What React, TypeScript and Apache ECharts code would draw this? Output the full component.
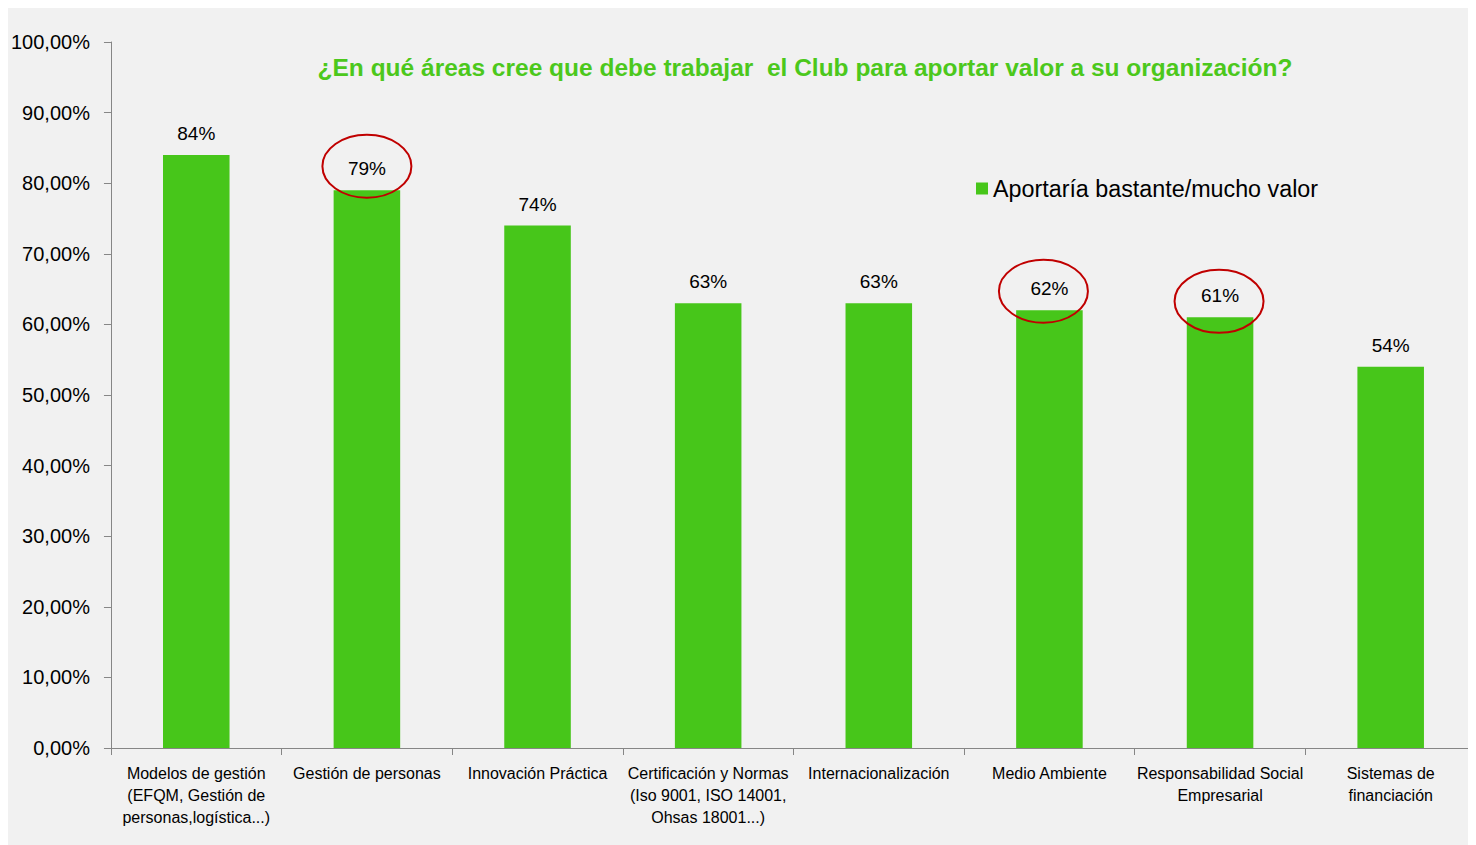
import React, { useEffect, useRef } from "react";
import * as echarts from "echarts";

const titleText = "¿En qué áreas cree que debe trabajar  el Club para aportar valor a su organización?";
const seriesName = "Aportaría bastante/mucho valor";
const categories = [
  "Modelos de gestión\n(EFQM, Gestión de\npersonas,logística...)",
  "Gestión de personas",
  "Innovación Práctica",
  "Certificación y Normas\n(Iso 9001, ISO 14001,\nOhsas 18001...)",
  "Internacionalización",
  "Medio Ambiente",
  "Responsabilidad Social\nEmpresarial",
  "Sistemas de\nfinanciación",
];
const values = [84, 79, 74, 63, 63, 62, 61, 54];
const yTicks = { min: 0, max: 100, interval: 10 };
// highlighted categories (index) with ellipse offsets relative to bar top
const highlights = [
  { index: 1, dx: 0, dy: -24 },
  { index: 5, dx: -6, dy: -19 },
  { index: 6, dx: -1, dy: -16 },
];

const GREEN = "#47c61a";
const FONT = "'Liberation Sans', Arial, sans-serif";

export default function App() {
  const ref = useRef<HTMLDivElement>(null);
  useEffect(() => {
    if (!ref.current) return;
    document.documentElement.style.overflow = "hidden";
    document.body.style.overflow = "hidden";
    const chart = echarts.init(ref.current, undefined, { renderer: "svg" });
    chart.setOption({
      animation: false,
      backgroundColor: "#f1f1f1",
      textStyle: { fontFamily: FONT },
      title: {
        text: titleText,
        left: 792,
        textAlign: "center",
        top: 42,
        textStyle: { color: "#4cc81c", fontSize: 24.5, fontWeight: "bold", fontFamily: FONT },
      },
      legend: {
        left: 963,
        top: 164,
        itemWidth: 12,
        itemHeight: 12,
        icon: "rect",
        textStyle: { fontSize: 23.3, color: "#000", fontFamily: FONT },
        data: [seriesName],
      },
      grid: { left: 102, top: 34, right: -3, bottom: 97, containLabel: false },
      xAxis: {
        type: "category",
        data: categories,
        axisLine: { lineStyle: { color: "#868686", width: 1 } },
        axisTick: { show: true, length: 7, lineStyle: { color: "#868686" } },
        axisLabel: {
          interval: 0,
          color: "#000",
          fontSize: 16,
          lineHeight: 22,
          margin: 14,
          fontFamily: FONT,
        },
      },
      yAxis: {
        type: "value",
        min: yTicks.min,
        max: yTicks.max,
        interval: yTicks.interval,
        splitLine: { show: false },
        axisLine: { show: true, lineStyle: { color: "#868686", width: 1 } },
        axisTick: { show: true, length: 7, lineStyle: { color: "#868686" } },
        axisLabel: {
          color: "#000",
          fontSize: 20,
          margin: 21,
          fontFamily: FONT,
          formatter: (v: number) => v.toFixed(2).replace(".", ",") + "%",
        },
      },
      series: [
        {
          name: seriesName,
          type: "bar",
          data: values,
          barWidth: "39%",
          itemStyle: { color: GREEN },
          label: {
            show: true,
            position: "top",
            distance: 12,
            color: "#000",
            fontSize: 19,
            fontFamily: FONT,
            formatter: (p: any) => p.value + "%",
          },
        },
      ],
    });
    const ellipses = highlights.map((h) => {
      const [px, py] = chart.convertToPixel({ seriesIndex: 0 }, [h.index, values[h.index]]) as number[];
      return {
        type: "ellipse",
        shape: { cx: px + h.dx, cy: py + h.dy, rx: 44.5, ry: 31.5 },
        style: { fill: "none", stroke: "#c00000", lineWidth: 2 },
        z: 100,
      };
    });
    chart.setOption({ graphic: ellipses });
    return () => {
      chart.dispose();
    };
  }, []);
  return <div ref={ref} style={{ width: 1468, height: 837 }} />;
}
